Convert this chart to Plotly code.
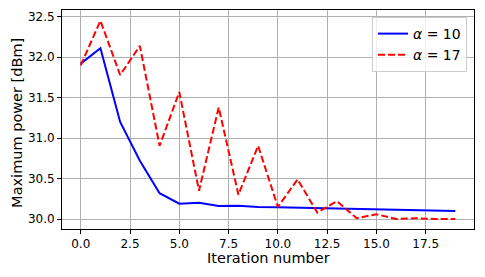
import plotly.graph_objects as go

iterations = list(range(20))
alpha10 = [31.92, 32.11, 31.20, 30.72, 30.32, 30.19, 30.20, 30.16, 30.165, 30.15,
           30.145, 30.14, 30.135, 30.13, 30.125, 30.12, 30.115, 30.11, 30.105, 30.10]
alpha17 = [31.90, 32.45, 31.78, 32.14, 30.905, 31.57, 30.35, 31.38, 30.30, 30.905,
           30.15, 30.49, 30.08, 30.22, 30.01, 30.06, 30.00, 30.01, 30.00, 30.00]
x_ticks = [0.0, 2.5, 5.0, 7.5, 10.0, 12.5, 15.0, 17.5]
y_ticks = [30.0, 30.5, 31.0, 31.5, 32.0, 32.5]

fig = go.Figure()
fig.add_trace(go.Scatter(x=iterations, y=alpha10, mode="lines", name="<i>α</i> = 10",
                         line=dict(color="blue", width=2)))
fig.add_trace(go.Scatter(x=iterations, y=alpha17, mode="lines", name="<i>α</i> = 17",
                         line=dict(color="red", width=2, dash="7px,3px")))

axis_common = dict(showline=True, linecolor="black", linewidth=1, mirror=True,
                   ticks="outside", ticklen=4, tickcolor="black", automargin=False,
                   showgrid=True, gridcolor="#b0b0b0", gridwidth=1, zeroline=False,
                   tickfont=dict(family="DejaVu Sans", size=12, color="black"))

fig.update_xaxes(range=[-0.95, 19.95], tickvals=x_ticks,
                 ticktext=[f"{v:.1f}" for v in x_ticks], **axis_common)
fig.update_yaxes(range=[29.877, 32.583], tickvals=y_ticks,
                 ticktext=[f"{v:.1f}" for v in y_ticks], **axis_common)

title_font = dict(family="DejaVu Sans", size=14.5, color="black")
fig.add_annotation(text="Iteration number", xref="paper", yref="paper",
                   x=0.5, y=-0.132, xanchor="center", yanchor="middle",
                   showarrow=False, font=title_font)
fig.add_annotation(text="Maximum power [dBm]", xref="paper", yref="paper",
                   x=-0.109, y=0.485, xanchor="center", yanchor="middle",
                   textangle=-90, showarrow=False, font=title_font)

fig.update_layout(
    width=485, height=277,
    margin=dict(l=62, r=11, t=10, b=48),
    plot_bgcolor="white", paper_bgcolor="white",
    showlegend=True,
    legend=dict(x=0.983, y=0.968, xanchor="right", yanchor="top",
                bgcolor="rgba(255,255,255,0.8)", bordercolor="#cccccc", borderwidth=1,
                font=dict(family="DejaVu Sans", size=14, color="black"),
                tracegroupgap=2),
)

fig.write_html("out.html", config={"displayModeBar": False},
               post_script="document.body.style.margin='0';document.body.style.padding='0';")
